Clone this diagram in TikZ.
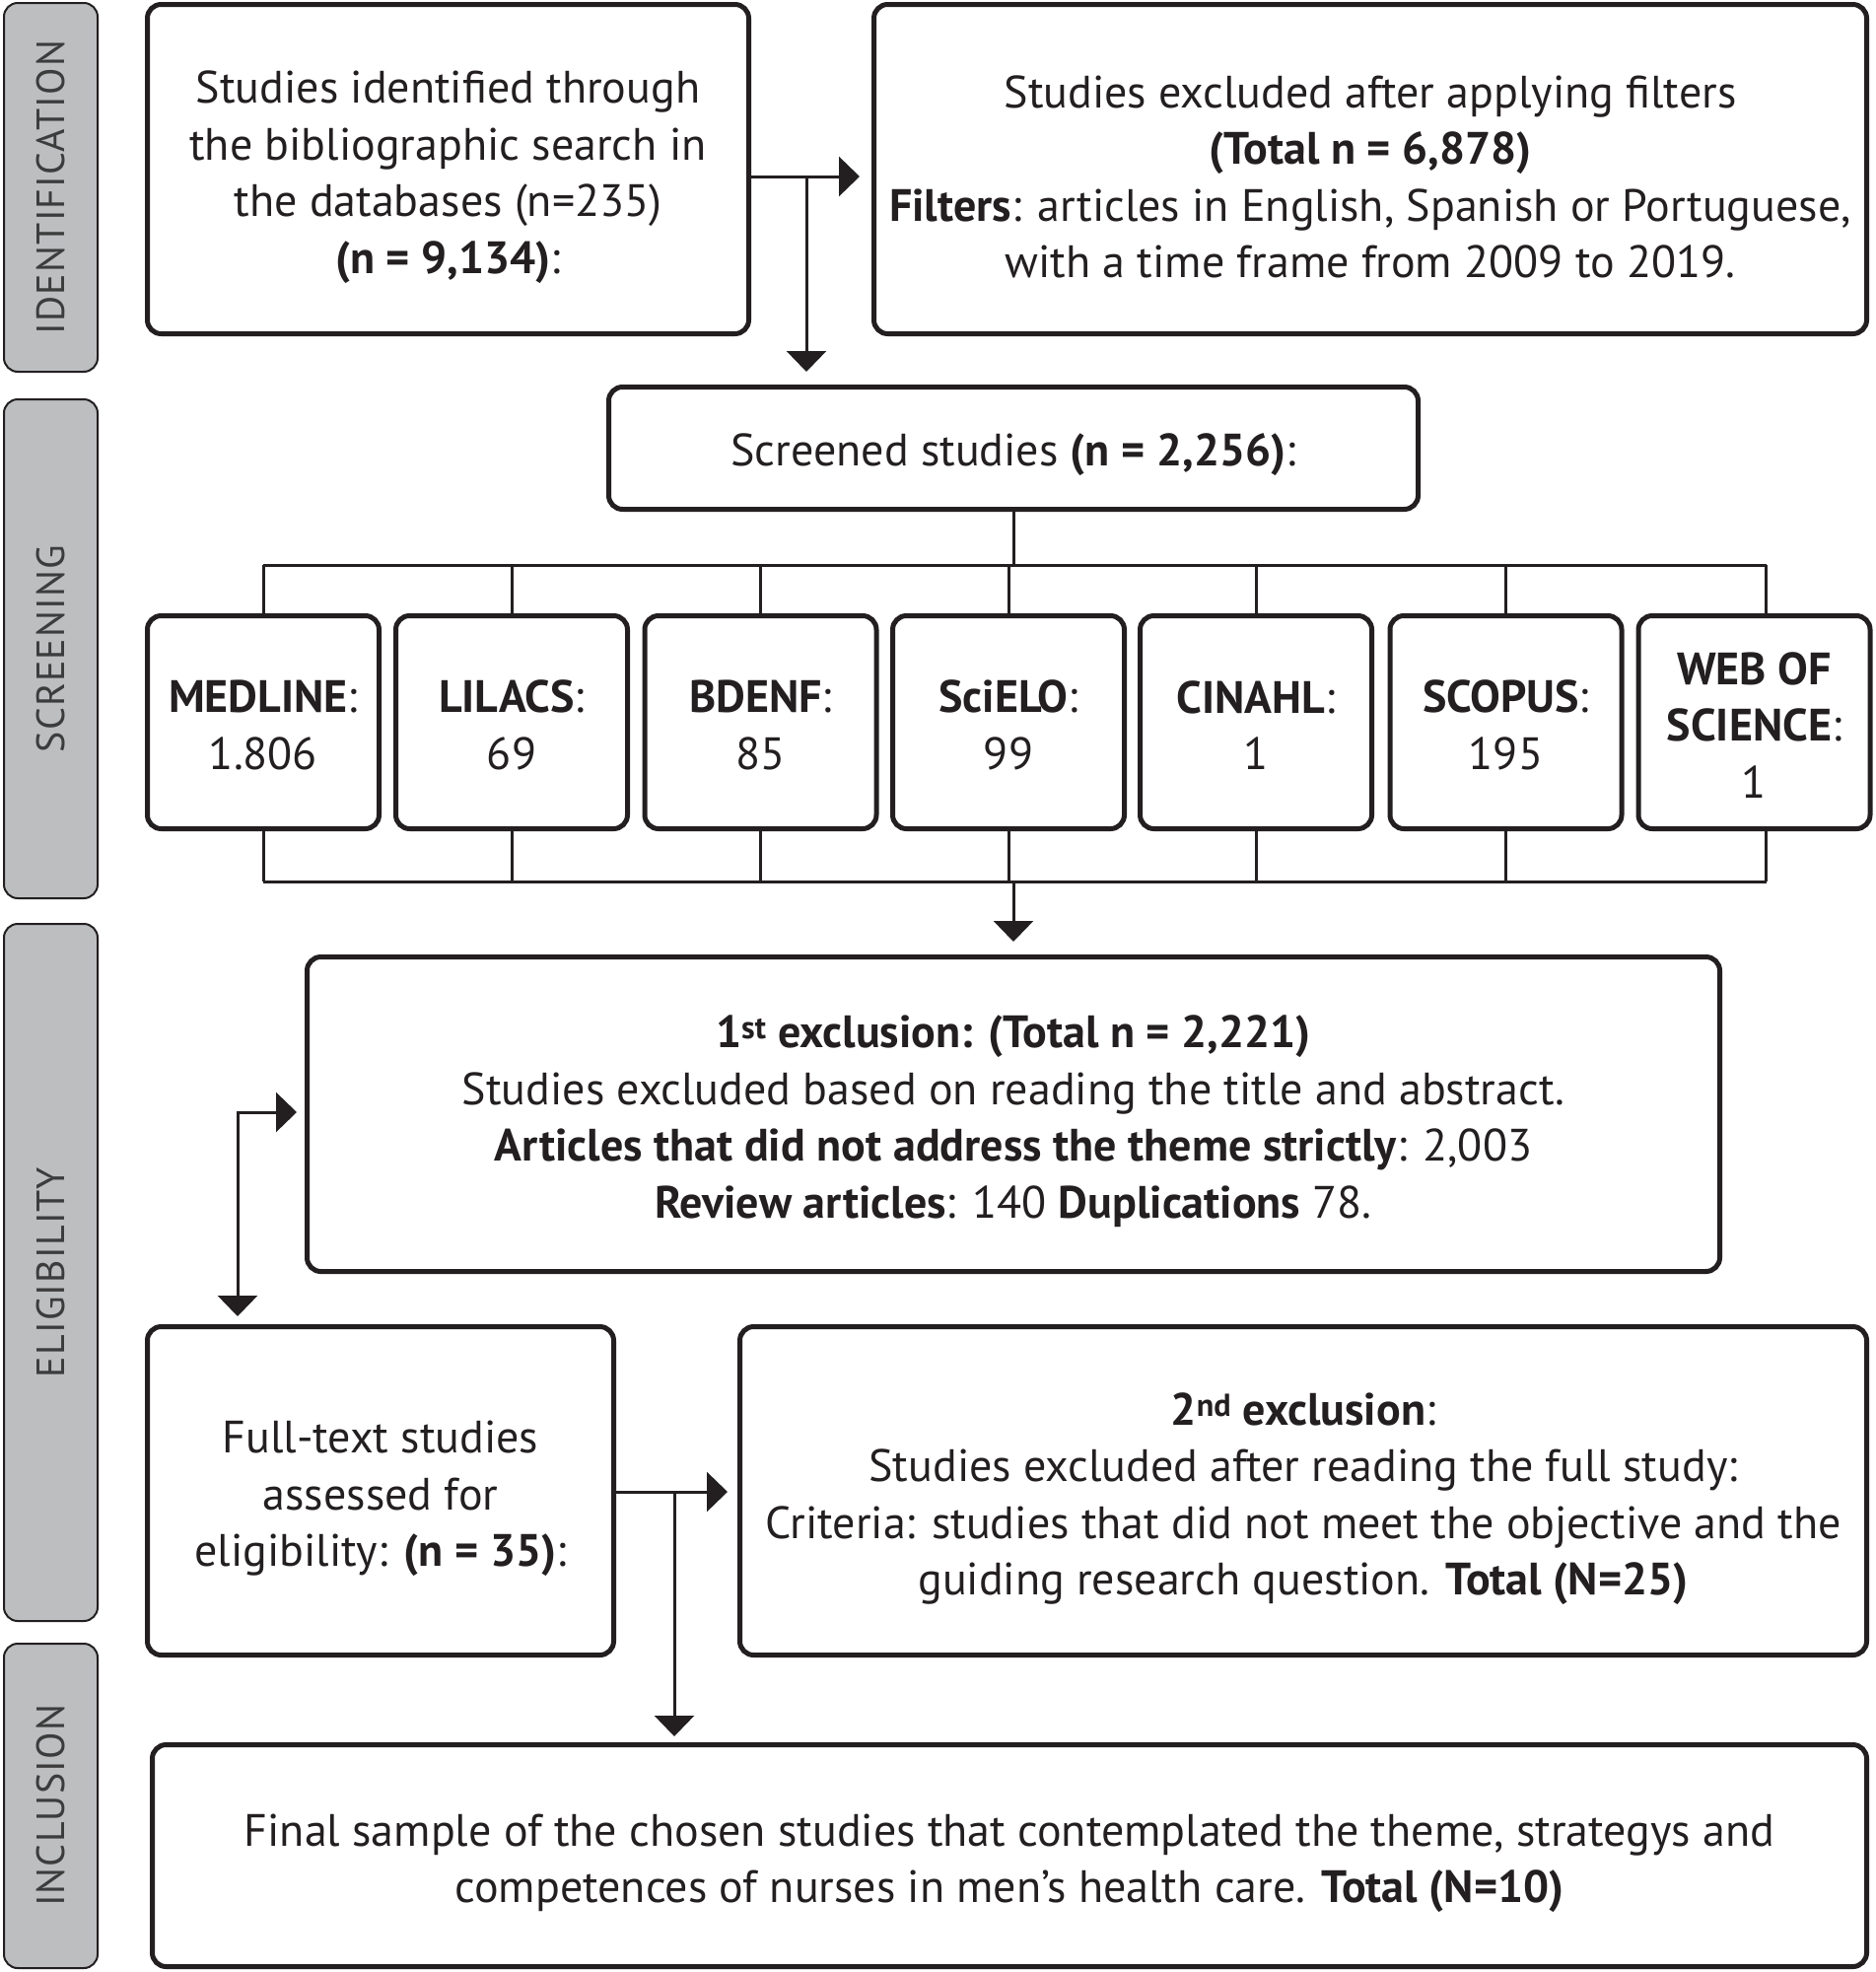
\documentclass[tikz,border=0pt]{standalone}
\usepackage{fontspec}
\setmainfont{PT Sans}
\newfontfamily\lblfont[LetterSpace=3]{PT Sans}
\usetikzlibrary{arrows.meta,calc}
\definecolor{ink}{HTML}{231F20}
\definecolor{lblfill}{HTML}{BCBEC0}
\definecolor{lbltext}{HTML}{3C3C3C}
\begin{document}
\begin{tikzpicture}[x=1pt,y=-1pt,
  box/.style={draw=ink, line width=5pt, rounded corners=14pt, inner sep=0pt},
  txt/.style={text=ink, align=center, inner sep=0pt, font=\fontsize{46}{57.5}\selectfont},
  lbl/.style={draw=ink, line width=2pt, fill=lblfill, rounded corners=14pt, minimum width=95pt, inner sep=0pt},
  lbltxt/.style={rotate=90, text=lbltext, font=\lblfont\fontsize{40}{40}\selectfont},
  conn/.style={draw=ink, line width=3pt},
  arr/.style={conn, -{Triangle[length=21pt,width=40pt]}},
  dbbox/.style={box, minimum width=235pt, minimum height=216pt},
]
\useasboundingbox (0,0) rectangle (1903,2000);
% phase labels
\node[lbl, minimum height=374pt] (lid) at (51.5,190) {};
\node[lbltxt] at (lid.center) {IDENTIFICATION};
\node[lbl, minimum height=506pt] (lsc) at (51.5,658) {};
\node[lbltxt] at (lsc.center) {SCREENING};
\node[lbl, minimum height=707pt] (lel) at (51.5,1290.5) {};
\node[lbltxt] at (lel.center) {ELIGIBILITY};
\node[lbl, minimum height=329pt] (lin) at (51.5,1831.5) {};
\node[lbltxt] at (lin.center) {INCLUSION};
% boxes
\node[box, minimum width=610pt, minimum height=334pt] (b1) at (454.5,171.5) {};
\node[txt] at ([yshift=-8pt]b1.center)
  {Studies identified through\\the bibliographic search in\\the databases (n=235)\\\textbf{(n = 9,134)}:};
\node[box, minimum width=1007pt, minimum height=334pt] (b2) at (1390,171.5) {};
\node[txt] at ([yshift=-8pt]b2.center)
  {Studies excluded after applying filters\\\textbf{(Total n = 6,878)}\\\textbf{Filters}: articles in English, Spanish or Portuguese,\\with a time frame from 2009 to 2019.};
\node[box, minimum width=821pt, minimum height=124pt] (scr) at (1028,454.5) {};
\node[txt] at ([yshift=-7pt]scr.center) {Screened studies \textbf{(n = 2,256)}:};
\node[dbbox] (med) at (267,732.5) {};
\node[txt] at ([yshift=-3pt]med.center) {\textbf{MEDLINE}:\\1.806};
\node[dbbox] (lil) at (519,732.5) {};
\node[txt] at ([yshift=-3pt]lil.center) {\textbf{LILACS}:\\69};
\node[dbbox] (bde) at (771.5,732.5) {};
\node[txt] at ([yshift=-3pt]bde.center) {\textbf{BDENF}:\\85};
\node[dbbox] (sci) at (1023,732.5) {};
\node[txt] at ([yshift=-3pt]sci.center) {\textbf{SciELO}:\\99};
\node[dbbox] (cin) at (1274,732.5) {};
\node[txt] at ([yshift=-3pt]cin.center) {\textbf{CINAHL}:\\1};
\node[dbbox] (sco) at (1527.5,732.5) {};
\node[txt] at ([yshift=-3pt]sco.center) {\textbf{SCOPUS}:\\195};
\node[dbbox] (web) at (1779.5,732.5) {};
\node[txt] at ([yshift=-3pt]web.center) {\textbf{WEB OF}\\\textbf{SCIENCE}:\\1};
\node[box, minimum width=1433pt, minimum height=319pt] (ex1) at (1028,1130) {};
\node[txt] at ([yshift=-7pt]ex1.center)
  {\textbf{1\textsuperscript{st} exclusion: (Total n = 2,221)}\\Studies excluded based on reading the title and abstract.\\\textbf{Articles that did not address the theme strictly}: 2,003\\\textbf{Review articles}: 140 \textbf{Duplications} 78.};
\node[box, minimum width=473pt, minimum height=333pt] (ft) at (386,1512) {};
\node[txt] at ([yshift=-8pt]ft.center)
  {Full-text studies\\assessed for\\eligibility: \textbf{(n = 35)}:};
\node[box, minimum width=1143pt, minimum height=333pt] (ex2) at (1322,1512) {};
\node[txt] at ([yshift=-8pt]ex2.center)
  {\textbf{2\textsuperscript{nd} exclusion}:\\Studies excluded after reading the full study:\\Criteria: studies that did not meet the objective and the\\guiding research question. \textbf{Total (N=25)}};
\node[box, minimum width=1739pt, minimum height=225pt] (fin) at (1024,1882) {};
\node[txt] at ([yshift=-8pt]fin.center)
  {Final sample of the chosen studies that contemplated the theme, strategys and\\competences of nurses in men's health care. \textbf{Total (N=10)}};
% connectors
\coordinate (j1) at (818,179);
\draw[arr, shorten >=12pt] (b1.east |- j1) -- (b2.west |- j1);
\draw[arr, shorten >=13pt] (j1) -- (j1 |- scr.north);
\coordinate (bus1) at (0,573);
\coordinate (bus2) at (0,894);
\draw[conn] (scr.south) -- (scr.south |- bus1);
\draw[conn] (med.north |- bus1) -- ([xshift=12pt]web.north |- bus1);
\foreach \n in {med,lil,bde,sci,cin,sco}{
  \draw[conn] (\n.north |- bus1) -- (\n.north);
  \draw[conn] (\n.south) -- (\n.south |- bus2);
}
\draw[conn] ([xshift=12pt]web.north |- bus1) -- ([xshift=12pt]web.north);
\draw[conn] ([xshift=12pt]web.south) -- ([xshift=12pt]web.south |- bus2);
\draw[conn] (med.south |- bus2) -- ([xshift=12pt]web.south |- bus2);
\draw[arr, shorten >=13pt] (scr.south |- bus2) -- (ex1.north);
\coordinate (c1) at (241,1128);
\draw[conn, {Triangle[length=21pt,width=40pt]}-{Triangle[length=21pt,width=40pt]}, shorten <=8pt, shorten >=8pt]
  (ex1.west |- c1) -- (c1) -- (c1 |- ft.north);
\coordinate (j2) at (684,1513);
\draw[arr, shorten >=10pt] (ft.east |- j2) -- (ex2.west |- j2);
\draw[arr, shorten >=6pt] (j2) -- (j2 |- fin.north);
\end{tikzpicture}
\end{document}
